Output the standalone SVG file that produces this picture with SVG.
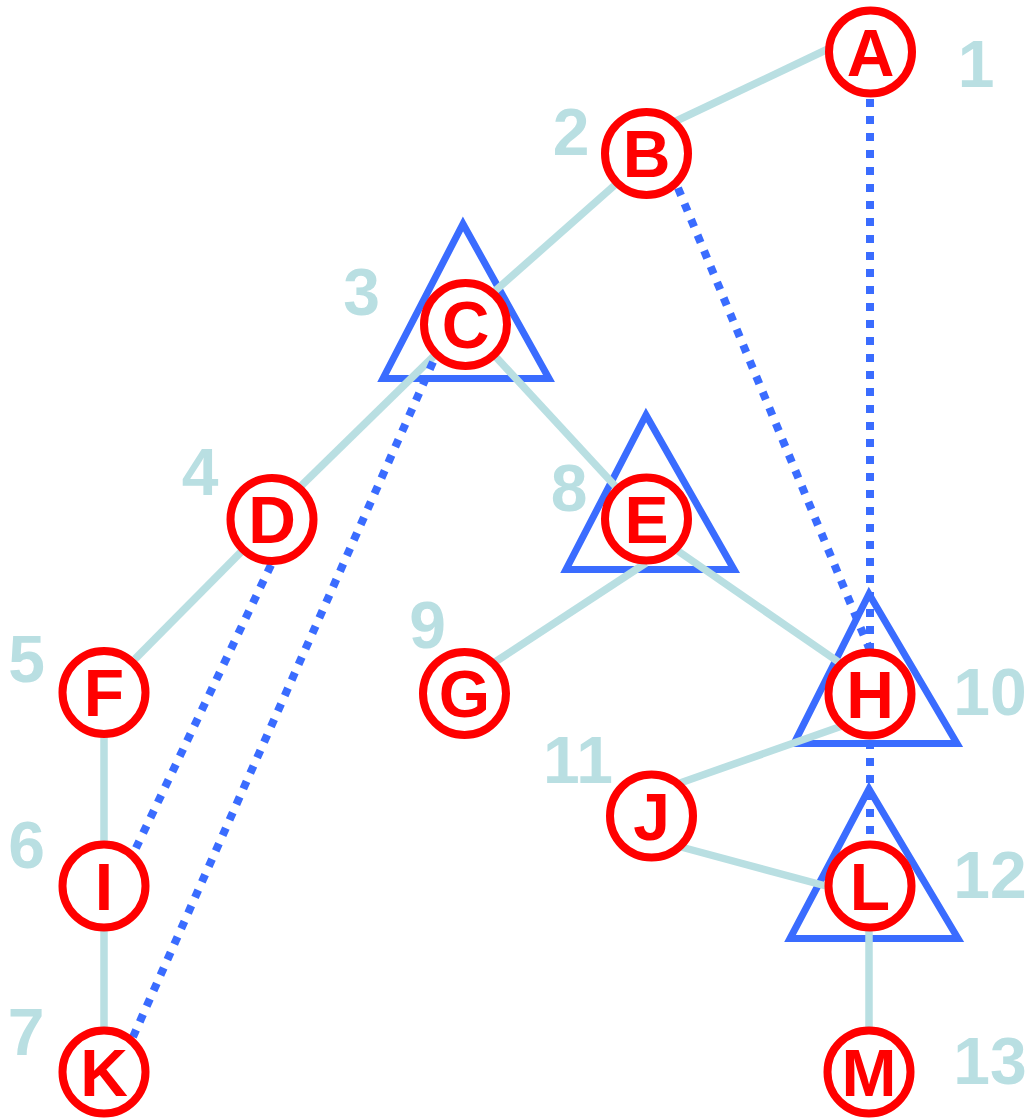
<svg xmlns="http://www.w3.org/2000/svg" width="1026" height="1118" viewBox="0 0 1026 1118">
<style>
.tri{fill:none;stroke:#3a6cff;stroke-width:7;stroke-linejoin:miter}
.e{stroke:#b9dfe2;stroke-width:7.5;fill:none}
.d{stroke:#3a6cff;stroke-width:8;stroke-dasharray:8 9;fill:none}
.n circle{fill:#fff;stroke:#ff0000;stroke-width:8}
.n text.l{font-family:"Liberation Sans",Arial,sans-serif;font-weight:bold;font-size:66px;fill:#ff0000;text-anchor:middle}
.n text.r{font-family:"Liberation Sans",Arial,sans-serif;font-weight:bold;font-size:66px;fill:#b9dfe2;text-anchor:middle}
</style>
<rect width="1026" height="1118" fill="#fff"/>
<g id="triangles">
<polygon class="tri" points="463,224 549,378.5 383,378.5"/>
<polygon class="tri" points="646,415 734,569.5 566,569.5"/>
<polygon class="tri" points="869,594 957,743.5 794,743.5"/>
<polygon class="tri" points="869,789 958,938.5 790,938.5"/>
</g>
<g id="connectors">
<line class="e" x1="828" y1="49" x2="674" y2="122"/>
<line class="e" x1="616" y1="184" x2="495" y2="291"/>
<line class="e" x1="435" y1="355" x2="301" y2="486"/>
<line class="e" x1="495" y1="356" x2="617" y2="488"/>
<line class="e" x1="242" y1="551" x2="135" y2="659"/>
<line class="e" x1="104" y1="735" x2="104" y2="843"/>
<line class="e" x1="104" y1="929" x2="104" y2="1029"/>
<line class="e" x1="646" y1="563" x2="495" y2="662"/>
<line class="e" x1="678" y1="551" x2="840" y2="663"/>
<line class="e" x1="842" y1="726" x2="680" y2="783"/>
<line class="e" x1="681" y1="847" x2="826" y2="886"/>
<line class="e" x1="869" y1="929" x2="869" y2="1029"/>
<line class="d" x1="870" y1="99" x2="870" y2="649"/>
<line class="d" x1="678" y1="188" x2="869" y2="648"/>
<line class="d" x1="271" y1="565" x2="136" y2="848"/>
<line class="d" x1="433" y1="362" x2="133" y2="1037"/>
<line class="d" x1="870" y1="741" x2="870" y2="841"/>
</g>
<g id="node-A" class="n"><circle cx="870.5" cy="52" r="41.5"/><text class="l" x="870.5" y="75.5">A</text><text class="r" x="976" y="87">1</text></g>
<g id="node-B" class="n"><circle cx="646.5" cy="153.5" r="41.5"/><text class="l" x="646.5" y="177">B</text><text class="r" x="571" y="155">2</text></g>
<g id="node-C" class="n"><circle cx="465.5" cy="324.5" r="41.5"/><text class="l" x="465.5" y="348">C</text><text class="r" x="361.5" y="315">3</text></g>
<g id="node-D" class="n"><circle cx="272" cy="519.5" r="41.5"/><text class="l" x="272" y="543">D</text><text class="r" x="200" y="495">4</text></g>
<g id="node-E" class="n"><circle cx="646.5" cy="519" r="41.5"/><text class="l" x="646.5" y="542.5">E</text><text class="r" x="569" y="511">8</text></g>
<g id="node-F" class="n"><circle cx="104" cy="692.5" r="41.5"/><text class="l" x="104" y="716">F</text><text class="r" x="26.5" y="682">5</text></g>
<g id="node-G" class="n"><circle cx="464.5" cy="693.5" r="41.5"/><text class="l" x="464.5" y="717">G</text><text class="r" x="427.5" y="648">9</text></g>
<g id="node-H" class="n"><circle cx="870" cy="694" r="41.5"/><text class="l" x="870" y="717.5">H</text><text class="r" x="990" y="715">10</text></g>
<g id="node-I" class="n"><circle cx="104" cy="886" r="41.5"/><text class="l" x="104" y="909.5">I</text><text class="r" x="26.5" y="868">6</text></g>
<g id="node-J" class="n"><circle cx="651.5" cy="816" r="41.5"/><text class="l" x="651.5" y="839.5">J</text><text class="r" x="578" y="783">11</text></g>
<g id="node-K" class="n"><circle cx="104" cy="1072" r="41.5"/><text class="l" x="104" y="1095.5">K</text><text class="r" x="26" y="1055">7</text></g>
<g id="node-L" class="n"><circle cx="870" cy="886" r="41.5"/><text class="l" x="870" y="909.5">L</text><text class="r" x="990" y="898">12</text></g>
<g id="node-M" class="n"><circle cx="869" cy="1072" r="41.5"/><text class="l" x="869" y="1095.5">M</text><text class="r" x="990" y="1084">13</text></g>
</svg>
